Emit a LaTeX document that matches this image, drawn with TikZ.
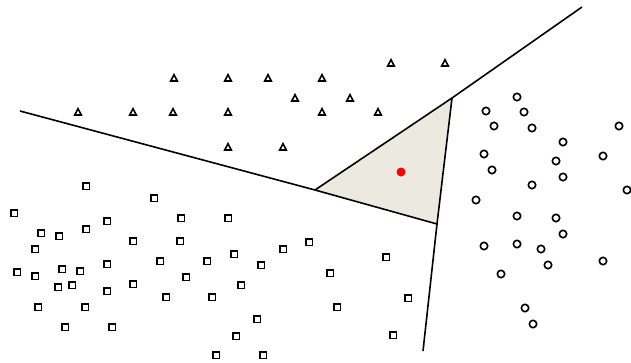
\documentclass[tikz,border=0pt]{standalone}
\usepackage{tikz}
\usetikzlibrary{calc}
\definecolor{cellfill}{RGB}{236,234,224}

\begin{document}
\begin{tikzpicture}[
  x=1pt, y=-1pt,
  border/.style={line width=1.6pt, draw=black},
  mark line/.style={line width=1.6pt, draw=black, line join=miter}
]
  \useasboundingbox (0,0) rectangle (631,362);

  % Voronoi cell vertices and the free ends of its edges
  \coordinate (vleft) at (315,190);
  \coordinate (vtop) at (452,98);
  \coordinate (vbottom) at (437,224);
  \coordinate (endwest) at (20,111);
  \coordinate (endnorth) at (582,7);
  \coordinate (endsouth) at (423,351);

  \fill[cellfill] (vleft) -- (vtop) -- (vbottom) -- cycle;
  \draw[border] (endwest) -- (vleft) -- (vtop) -- (endnorth);
  \draw[border] (vleft) -- (vbottom) -- (vtop);
  \draw[border] (vbottom) -- (endsouth);

  \fill[red] (401,172) circle (4.5);

  % class one: triangles
  \foreach \x/\y in {174/78,228/78,268/78,322/78,391/63,445/63,295/98,350/98,
                     78/112,133/112,173/112,228/112,322/112,378/112,228/147,283/147} {
    \draw[mark line] (\x-3.3,\y+3) -- (\x+3.3,\y+3) -- (\x,\y-3.3) -- cycle;
  }

  % class two: circles
  \foreach \x/\y in {517/97,486/111,524/112,494/126,532/128,619/126,563/142,484/154,
                     603/156,556/161,492/170,563/177,532/185,627/190,476/200,517/216,
                     556/218,563/234,484/246,517/244,541/249,603/261,548/265,501/274,
                     525/308,533/324} {
    \draw[mark line] (\x,\y) circle (3.7);
  }

  % class three: squares
  \foreach \x/\y in {86/186,154/198,14/213,181/218,228/218,107/221,41/233,59/236,
                     86/229,133/241,180/241,35/249,160/261,207/261,234/254,261/265,
                     283/249,309/242,17/272,35/276,62/269,80/271,107/264,58/287,
                     72/285,107/291,133/284,186/277,166/297,212/297,241/285,38/307,
                     85/307,65/327,112/327,257/319,236/336,216/355,263/355,
                     386/257,330/273,408/298,337/307,393/335} {
    \draw[mark line] (\x-3.3,\y-3.3) rectangle (\x+3.3,\y+3.3);
  }
\end{tikzpicture}
\end{document}
